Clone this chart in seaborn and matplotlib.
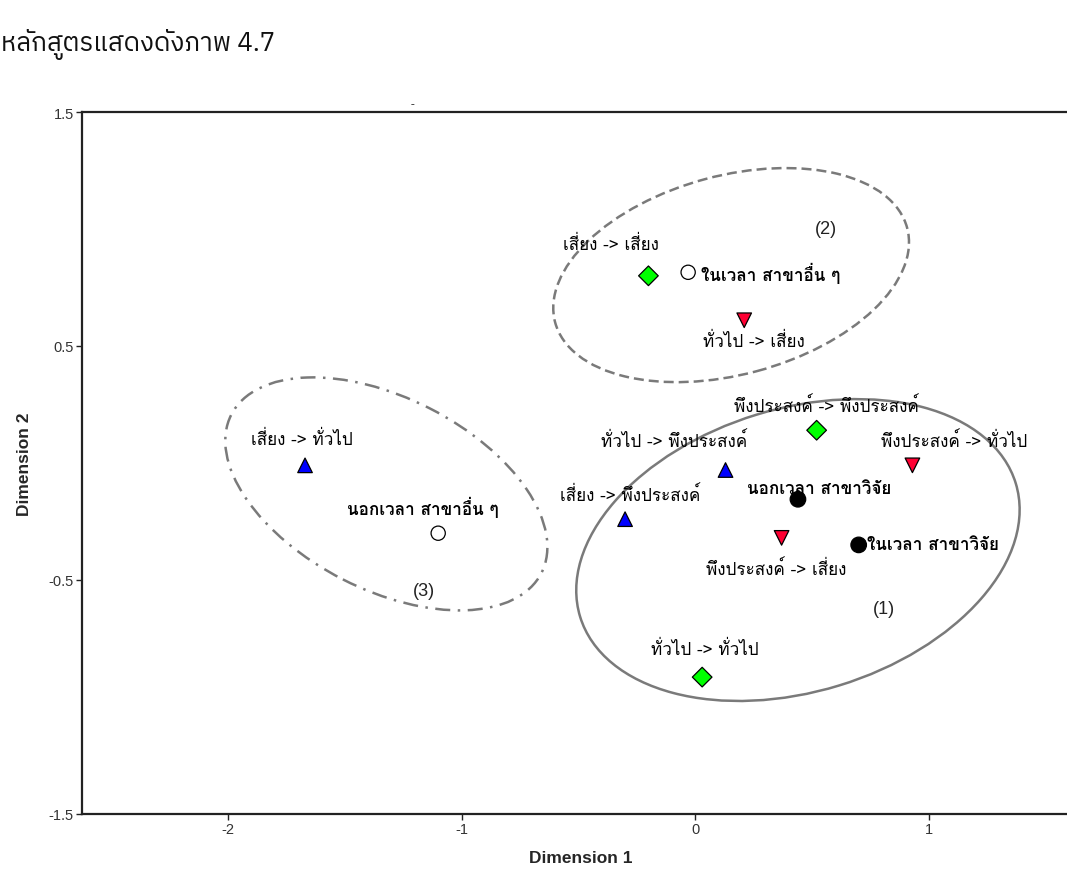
import matplotlib
matplotlib.use("Agg")
import matplotlib.pyplot as plt
from matplotlib.patches import Ellipse
import seaborn as sns
import pandas as pd

# ---------------- data ----------------
labels = [
    "เสี่ยง -> เสี่ยง", "พึงประสงค์ -> พึงประสงค์", "ทั่วไป -> ทั่วไป",
    "เสี่ยง -> ทั่วไป", "ทั่วไป -> พึงประสงค์", "เสี่ยง -> พึงประสงค์",
    "ทั่วไป -> เสี่ยง", "พึงประสงค์ -> ทั่วไป", "พึงประสงค์ -> เสี่ยง",
    "นอกเวลา สาขาวิจัย", "ในเวลา สาขาวิจัย",
    "ในเวลา สาขาอื่น ๆ", "นอกเวลา สาขาอื่น ๆ",
]
dim1 = [-0.20, 0.52, 0.03, -1.67, 0.13, -0.30, 0.21, 0.93, 0.37, 0.44, 0.70, -0.03, -1.10]
dim2 = [0.80, 0.14, -0.915, -0.01, -0.03, -0.24, 0.61, -0.01, -0.32, -0.155, -0.35, 0.815, -0.30]
groups = ["same", "same", "same", "up", "up", "up", "down", "down", "down",
          "research", "research", "other", "other"]

cluster_names = ["(1)", "(2)", "(3)"]
cluster_cx = [0.44, 0.154, -1.322]
cluster_cy = [-0.372, 0.803, -0.132]
cluster_w = [1.95, 1.56, 1.49]
cluster_h = [1.21, 0.85, 0.82]
cluster_angle = [17, 15, -27]
cluster_label_x = [0.81, 0.56, -1.16]
cluster_label_y = [-0.62, 1.00, -0.547]

x_ticks = [-2, -1, 0, 1]
y_ticks = [-1.5, -0.5, 0.5, 1.5]

# ---------------- style ----------------
sns.set_theme(style="white")
THAI = ["Loma", "IBM Plex Sans Thai", "Sarabun", "Noto Sans", "DejaVu Sans"]
plt.rcParams["font.family"] = THAI

df = pd.DataFrame({"label": labels, "dim1": dim1, "dim2": dim2, "group": groups})

W, H = 1067, 879
fig = plt.figure(figsize=(W / 100, H / 100), dpi=100)
ax = fig.add_axes([82 / W, 1 - 815 / H, (1080 - 82) / W, (815 - 113) / H])

palette = {"same": "#00ff00", "up": "#0000ff", "down": "#ff0033",
           "research": "#000000", "other": "#ffffff"}
markers = {"same": "D", "up": "^", "down": "v", "research": "o", "other": "o"}
sizes = {"same": 100, "up": 110, "down": 110, "research": 125, "other": 105}

sns.scatterplot(data=df, x="dim1", y="dim2", hue="group", style="group", size="group",
                palette=palette, markers=markers, sizes=sizes,
                edgecolor="black", linewidth=0.9, legend=False, ax=ax, zorder=3)

# label offsets (points) and alignment per point
offsets = [(-27, 23, "center"), (7, 18, "center"), (2, 20, "center"),
           (-2, 19, "center"), (-37, 21, "center"), (4, 18, "center"),
           (7, -15, "center"), (30, 18, "center"), (-4, -22, "center"),
           (-37, 8, "left"), (6, 0, "left"),
           (9, 0, "left"), (-11, 19, "center")]
bold = {"research", "other"}
for (lab, x, y, g), (dx, dy, ha) in zip(zip(labels, dim1, dim2, groups), offsets):
    ax.annotate(lab, (x, y), xytext=(dx, dy), textcoords="offset points",
                ha=ha, va="center", fontsize=12.3,
                fontweight="bold" if g in bold else "normal",
                color="black", zorder=4, family=THAI)

styles = ["-", (0, (4, 2)), (0, (6, 3, 1, 3))]
for cx, cy, w, h, ang, ls in zip(cluster_cx, cluster_cy, cluster_w, cluster_h, cluster_angle, styles):
    ax.add_patch(Ellipse((cx, cy), w, h, angle=ang, fill=False, edgecolor="#7a7a7a",
                         linewidth=1.8, linestyle=ls, zorder=2))
for name, lx, ly in zip(cluster_names, cluster_label_x, cluster_label_y):
    ax.text(lx, ly, name, fontsize=13, ha="center", va="center", color="#222222",
            family=["Liberation Sans", "DejaVu Sans"])

ax.set_xlim(-2 - (228 - 82) / 233.7, (1080 - 695) / 233.7)
ax.set_ylim(-1.5, 1.5)
ax.set_xticks(x_ticks)
ax.set_yticks(y_ticks)
ax.set_xticklabels([str(t) for t in x_ticks])
ax.set_yticklabels([f"{t:g}" for t in y_ticks])
ax.tick_params(axis="both", direction="out", length=4, width=1, color="#222222",
               labelsize=10.5, labelcolor="#333333", pad=2, left=True, bottom=True)
for lab in ax.get_xticklabels() + ax.get_yticklabels():
    lab.set_family(["Liberation Sans Narrow", "Liberation Sans", "DejaVu Sans"])
for side in ["left", "bottom", "top", "right"]:
    ax.spines[side].set_color("#222222")
    ax.spines[side].set_linewidth(1.6)

ax.set_xlabel("Dimension 1", fontsize=12.5, fontweight="bold",
              family=["Liberation Sans", "DejaVu Sans"], labelpad=10)
ax.set_ylabel("Dimension 2", fontsize=12.5, fontweight="bold",
              family=["Liberation Sans", "DejaVu Sans"], labelpad=12)

fig.text(1 / W, 1 - 45 / H, "หลักสูตรแสดงดังภาพ 4.7", fontsize=18.5, va="center", ha="left",
         family=["IBM Plex Sans Thai", "Kanit", "Loma", "DejaVu Sans"], color="#111111")
fig.text(413 / W, 1 - 104 / H, "-", fontsize=8, ha="center", va="center")

fig.savefig("out.png", dpi=100)
